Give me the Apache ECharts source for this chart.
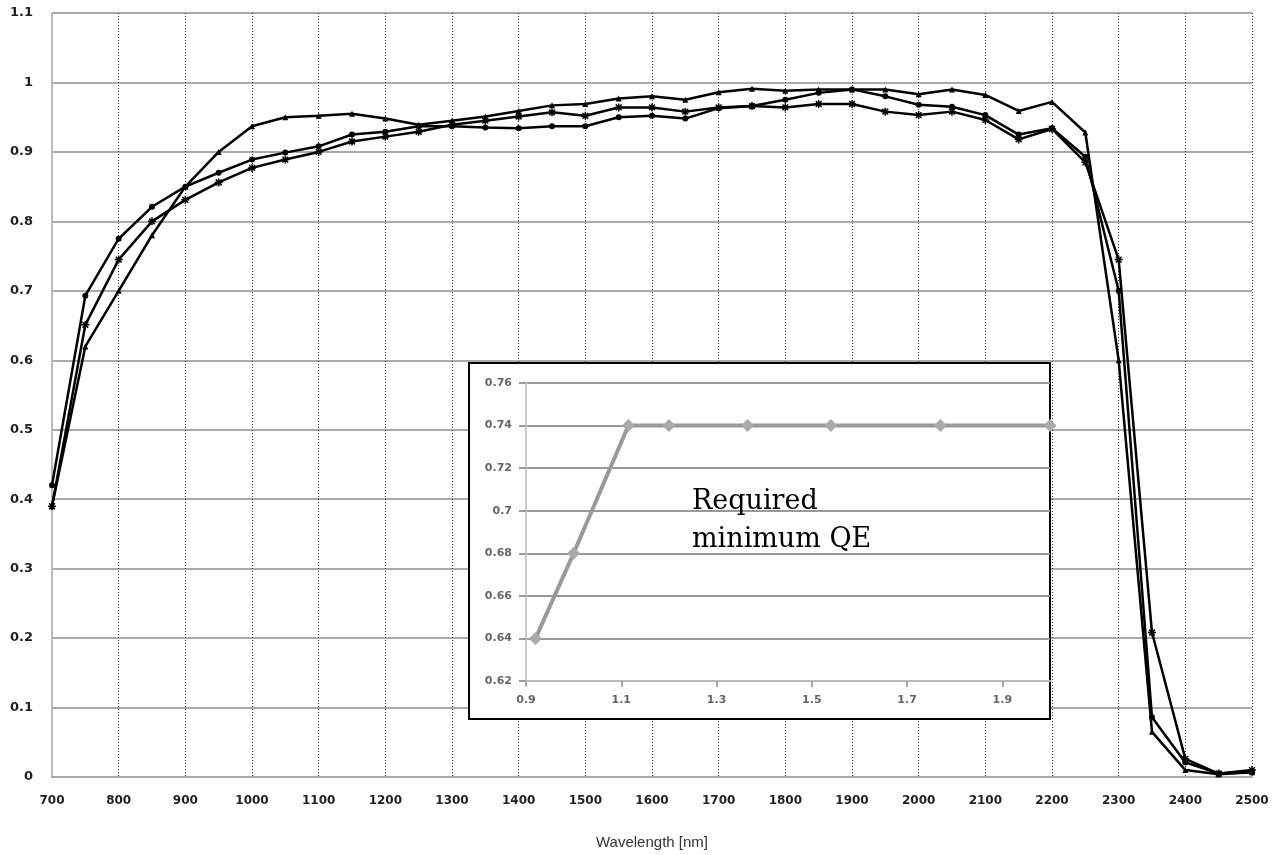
<!DOCTYPE html>
<html>
<head>
<meta charset="utf-8">
<script src="https://cdn.jsdelivr.net/npm/echarts@6/dist/echarts.min.js"></script>
<style>
html,body{margin:0;padding:0;background:#fff;}
#c{width:1281px;height:855px;}
</style>
</head>
<body>
<div id="c"></div>
<script>
// Wavelength grid (nm)
var wavelengths = [700,750,800,850,900,950,1000,1050,1100,1150,1200,1250,1300,1350,1400,1450,1500,1550,1600,1650,1700,1750,1800,1850,1900,1950,2000,2050,2100,2150,2200,2250,2300,2350,2400,2450,2500];
// QE curve with circle markers
var qeCircle = [0.42,0.693,0.775,0.821,0.85,0.870,0.889,0.899,0.908,0.925,0.929,0.937,0.937,0.935,0.934,0.937,0.937,0.950,0.952,0.948,0.963,0.966,0.975,0.985,0.990,0.980,0.968,0.965,0.953,0.925,0.934,0.893,0.70,0.086,0.021,0.005,0.007];
// QE curve with triangle markers
var qeTriangle = [0.39,0.62,0.70,0.78,0.85,0.90,0.937,0.95,0.952,0.955,0.948,0.939,0.945,0.951,0.959,0.967,0.969,0.977,0.980,0.975,0.986,0.991,0.988,0.990,0.990,0.990,0.983,0.990,0.982,0.959,0.972,0.928,0.60,0.065,0.010,0.004,0.007];
// QE curve with asterisk markers
var qeStar = [0.39,0.651,0.745,0.80,0.831,0.856,0.877,0.889,0.900,0.915,0.922,0.929,0.939,0.945,0.951,0.957,0.952,0.964,0.964,0.958,0.964,0.966,0.964,0.969,0.969,0.958,0.953,0.958,0.946,0.918,0.933,0.885,0.745,0.208,0.026,0.005,0.010];
// Inset: required minimum QE (wavelength in microns)
var insetWavelengths = [0.92,1.0,1.115,1.2,1.365,1.54,1.77,2.0];
var insetQE = [0.64,0.68,0.74,0.74,0.74,0.74,0.74,0.74];
var insetTitle = ['Required','minimum QE'];
var xAxisTitle = 'Wavelength [nm]';

function pairs(xs, ys){ return xs.map(function(x,i){ return [x, ys[i]]; }); }

var chart = echarts.init(document.getElementById('c'), null, {renderer:'canvas'});
var starPath = 'path://M0,-5L0,5M-5,0L5,0M-3.6,-3.6L3.6,3.6M-3.6,3.6L3.6,-3.6';

var mainLine = {type:'line', xAxisIndex:0, yAxisIndex:0, symbolSize:6, z:3,
  lineStyle:{color:'#000', width:2.5}, itemStyle:{color:'#000'}, animation:false};

var option = {
  animation:false,
  backgroundColor:'#fff',
  grid:[
    {left:52, top:13, width:1200, height:765, show:false},
    {left:526, top:383, width:524, height:298, show:false, z:11}
  ],
  xAxis:[
    {type:'value', gridIndex:0, min:700, max:2500, interval:100,
     name:xAxisTitle, nameLocation:'middle', nameGap:58,
     nameTextStyle:{fontFamily:'"Liberation Sans", sans-serif', fontSize:15, color:'#333'},
     axisLine:{show:true, lineStyle:{color:'#aaa', width:2}},
     axisTick:{show:false},
     axisLabel:{margin:18, fontFamily:'"DejaVu Sans", sans-serif', fontWeight:'bold', fontSize:12, color:'#222',
       formatter:function(v){ return String(Math.round(v)); }},
     splitLine:{show:true, lineStyle:{color:'#333', type:[1,2], width:1}}
    },
    {type:'value', gridIndex:1, min:0.9, max:2.0, interval:0.2, z:11,
     axisLine:{show:true, onZero:false, lineStyle:{color:'#bbb', width:2}},
     axisTick:{show:true, length:6, inside:false, lineStyle:{color:'#aaa', width:2}},
     axisLabel:{margin:14, showMaxLabel:false, fontFamily:'"DejaVu Sans", sans-serif', fontWeight:'bold', fontSize:11, color:'#666',
       formatter:function(v){ return (Math.abs(v-2.0)<1e-6)?'':String(Math.round(v*10)/10); }},
     splitLine:{show:false}
    }
  ],
  yAxis:[
    {type:'value', gridIndex:0, min:0, max:1.1, interval:0.1,
     axisLine:{show:true, lineStyle:{color:'#bbb', width:2}},
     axisTick:{show:false},
     axisLabel:{margin:19, fontFamily:'"DejaVu Sans", sans-serif', fontWeight:'bold', fontSize:13, color:'#222'},
     splitLine:{show:true, lineStyle:{color:'#aaa', width:2}}
    },
    {type:'value', gridIndex:1, min:0.62, max:0.76, interval:0.02, z:11,
     axisLine:{show:true, lineStyle:{color:'#ccc', width:2}},
     axisTick:{show:true, length:7, lineStyle:{color:'#999', width:2}},
     axisLabel:{margin:14, fontFamily:'"DejaVu Sans", sans-serif', fontWeight:'bold', fontSize:11, color:'#666'},
     splitLine:{show:true, lineStyle:{color:'#999', width:2}}
    }
  ],
  graphic:[
    {type:'rect', z:10, shape:{x:469, y:363, width:581, height:356},
     style:{fill:'#fff', stroke:'#000', lineWidth:2}},
    {type:'text', z:20, x:692, y:483,
     style:{text:insetTitle.join('\n'), font:'27px "DejaVu Serif", serif', fill:'#000', lineHeight:38}}
  ],
  series:[
    Object.assign({}, mainLine, {name:'circle', symbol:'circle', data:pairs(wavelengths, qeCircle)}),
    Object.assign({}, mainLine, {name:'triangle', symbol:'triangle', data:pairs(wavelengths, qeTriangle)}),
    Object.assign({}, mainLine, {name:'star', symbol:starPath, symbolSize:8,
      itemStyle:{color:'#000', borderColor:'#000', borderWidth:1.5}, data:pairs(wavelengths, qeStar)}),
    {type:'line', name:'required', xAxisIndex:1, yAxisIndex:1, z:12, symbol:'diamond', symbolSize:13,
     lineStyle:{color:'#999', width:4}, itemStyle:{color:'#aaa'},
     data:pairs(insetWavelengths, insetQE)}
  ]
};
chart.setOption(option);
</script>
</body>
</html>
